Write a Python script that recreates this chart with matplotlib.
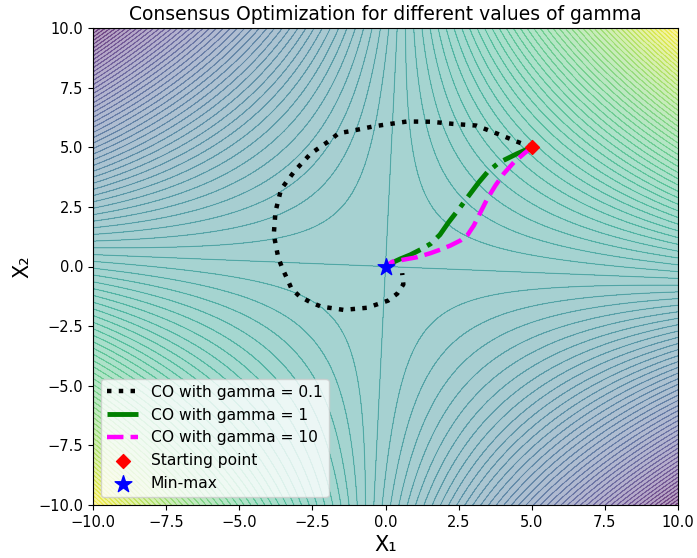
import numpy as np
import matplotlib
matplotlib.use("Agg")
import matplotlib.pyplot as plt

# Trajectories
gamma01_x = [5.0, 4.59, 3.84, 3.10, 2.31, 1.54, 0.74, -0.06, -0.43, -1.22, -1.60, -1.91,
             -2.56, -3.11, -3.57, -3.76, -3.82, -3.67, -3.53, -3.36, -3.21, -2.93, -2.56,
             -2.20, -1.43, -0.63, 0.09, 0.40, 0.61, 0.57]
gamma01_y = [5.0, 5.19, 5.56, 5.91, 5.98, 6.07, 6.08, 5.94, 5.87, 5.67, 5.59, 5.28,
             4.73, 4.00, 3.24, 2.31, 1.34, 0.39, -0.07, -0.52, -0.94, -1.26, -1.50,
             -1.68, -1.82, -1.73, -1.43, -1.14, -0.75, -0.28]

gamma1_x = [5.0, 4.50, 3.87, 3.48, 3.19, 2.81, 2.56, 2.16, 1.86, 1.54, 1.20, 0.85, 0.51, 0.23, 0.0]
gamma1_y = [5.0, 4.73, 4.35, 3.95, 3.53, 2.91, 2.49, 1.86, 1.33, 0.95, 0.71, 0.49, 0.32, 0.16, 0.0]

gamma10_x = [5.0, 4.73, 4.39, 4.04, 3.76, 3.48, 3.25, 3.02, 2.81, 2.56, 2.22, 1.88, 1.54, 1.08, 0.63, 0.23, 0.0]
gamma10_y = [5.0, 4.73, 4.37, 3.89, 3.40, 2.84, 2.28, 1.72, 1.33, 1.09, 0.88, 0.71, 0.56, 0.39, 0.29, 0.20, 0.0]

start_point = [5.0, 5.0]
minmax_point = [0.0, 0.0]

x_range = [-10, 10]
y_range = [-10, 10]
n_levels = 100

fig = plt.figure(figsize=(6.97, 5.58), dpi=100)
ax = fig.add_axes([93/697, 1-505/558, (678-93)/697, (505-28)/558])

g1 = np.linspace(x_range[0], x_range[1], 400)
g2 = np.linspace(y_range[0], y_range[1], 400)
X1, X2 = np.meshgrid(g1, g2)
Z = (X1 * X2 + 0.05 * X1**2 - 0.04 * X2**2) * (1 + 0.004 * (X1**2 + X2**2))

ax.contourf(X1, X2, Z, n_levels, cmap='viridis', alpha=0.4)
ax.contour(X1, X2, Z, n_levels, cmap='viridis', alpha=0.4, linewidths=0.8)

ax.plot(gamma01_x, gamma01_y, ':', color='black', lw=3.2, label='CO with gamma = 0.1')
ax.plot(gamma1_x, gamma1_y, '-.', color='green', lw=3.5, label='CO with gamma = 1')
ax.plot(gamma10_x, gamma10_y, '--', color='magenta', lw=3.2, label='CO with gamma = 10')
ax.scatter([start_point[0]], [start_point[1]], marker='D', color='red', s=50, zorder=5, label='Starting point')
ax.scatter([minmax_point[0]], [minmax_point[1]], marker='*', color='blue', s=160, zorder=5, label='Min-max')

ax.set_xlim(x_range)
ax.set_ylim(y_range)
ax.tick_params(labelsize=10.5)
ax.set_xlabel('X\u2081', fontsize=15)
ax.set_ylabel('X\u2082', fontsize=15)
ax.set_title('Consensus Optimization for different values of gamma', fontsize=13.5)
ax.legend(loc='lower left', fontsize=11.2)

fig.savefig('out.png', dpi=100)
